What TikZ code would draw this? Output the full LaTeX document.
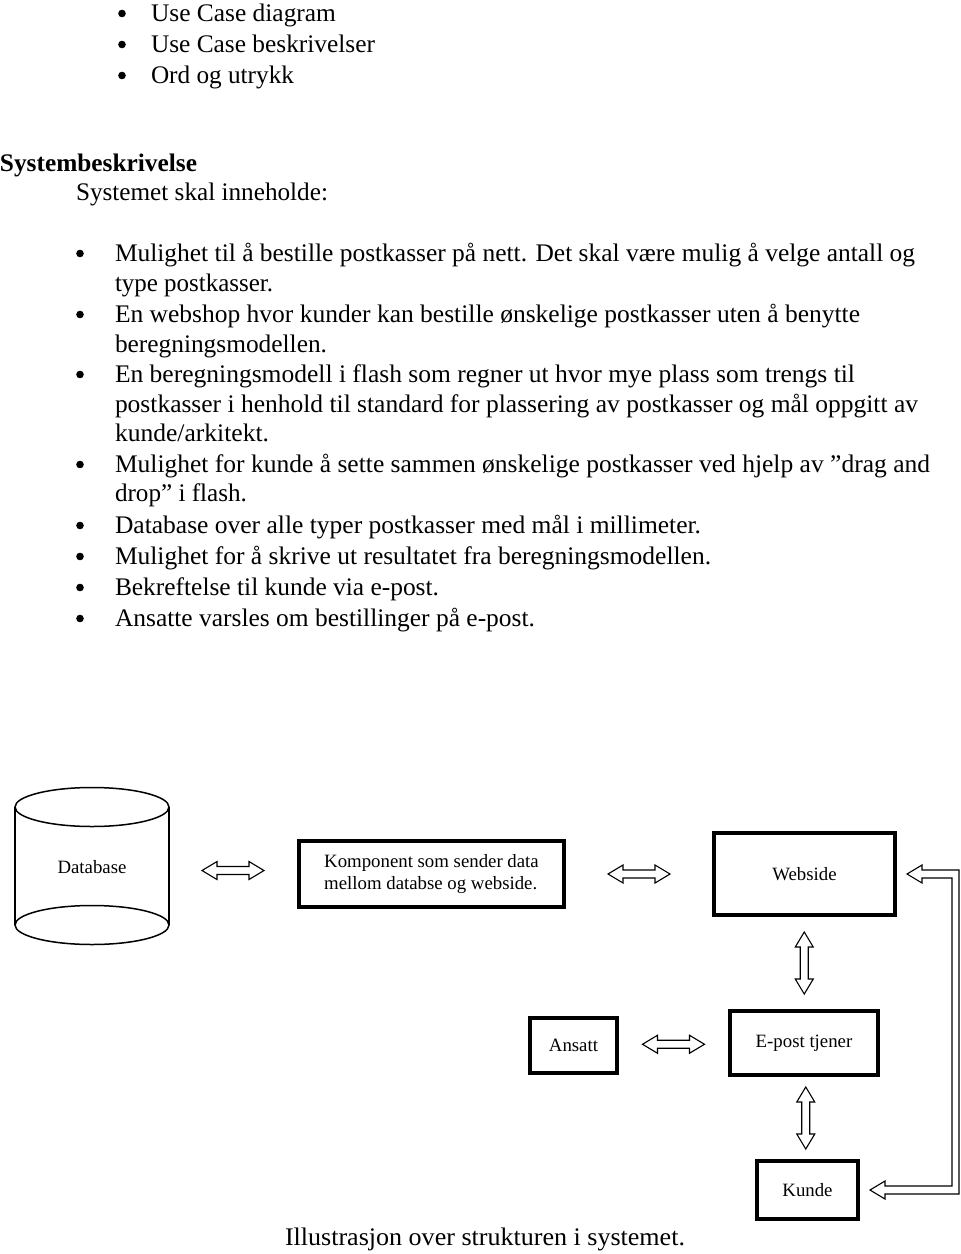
\documentclass[tikz,border=0pt]{standalone}
\usepackage{fontspec}
\setmainfont{Liberation Serif}
\usepackage{graphicx}
\usetikzlibrary{calc}
\tikzset{
  txt/.style={anchor=base west, inner sep=0pt, outer sep=0pt, font=\fontsize{12.65}{15}\selectfont},
  box/.style={draw=black, line width=2pt, inner sep=0pt, font=\fontsize{9.4}{11}\selectfont},
  arr/.style={draw=black, line width=0.55pt, fill=white, line join=miter},
  cyl/.style={draw=black, line width=0.75pt},
  dblarr/.pic={\path[arr] (-31,0) -- (-16,-9) -- (-16,-4) -- (16,-4) -- (16,-9) -- (31,0) -- (16,9) -- (16,4) -- (-16,4) -- (-16,9) -- cycle;}
}
\newcommand\txtline[4]{\node[txt] (#1) at (#2) {\resizebox{#3}{\height}{#4}};}
\begin{document}
\begin{tikzpicture}[x=0.5pt,y=-0.5pt]
\useasboundingbox (0,0) rectangle (960,1254);
% top list
\txtline{u1}{151,21.5}{92.5pt}{Use Case diagram}
\txtline{u2}{151,52.5}{112pt}{Use Case beskrivelser}
\txtline{u3}{151,83.5}{71.5pt}{Ord og utrykk}
\foreach \y in {21.5,52.5,83.5} \fill (122,\y-8) circle[radius=3.8];
% heading
\txtline{sb}{0,171.5}{98.5pt}{\bfseries Systembeskrivelse}
\txtline{si}{76,200.5}{126pt}{Systemet skal inneholde:}
% main list
\txtline{m1}{115,261.5}{400pt}{Mulighet til å bestille postkasser på nett. Det skal være mulig å velge antall og}
\txtline{m2}{115,291.5}{79pt}{type postkasser.}
\txtline{m3}{115,322.5}{372.5pt}{En webshop hvor kunder kan bestille ønskelige postkasser uten å benytte}
\txtline{m4}{115,352.5}{106pt}{beregningsmodellen.}
\txtline{m5}{115,382.5}{370pt}{En beregningsmodell i flash som regner ut hvor mye plass som trengs til}
\txtline{m6}{115,412.5}{401.5pt}{postkasser i henhold til standard for plassering av postkasser og mål oppgitt av}
\txtline{m7}{115,441.5}{77pt}{kunde/arkitekt.}
\txtline{m8}{115,472.5}{407.5pt}{Mulighet for kunde å sette sammen ønskelige postkasser ved hjelp av ”drag and}
\txtline{m9}{115,501.5}{66pt}{drop” i flash.}
\txtline{m10}{115,533.5}{293pt}{Database over alle typer postkasser med mål i millimeter.}
\txtline{m11}{115,564.5}{298pt}{Mulighet for å skrive ut resultatet fra beregningsmodellen.}
\txtline{m12}{115,595.5}{162pt}{Bekreftelse til kunde via e-post.}
\txtline{m13}{115,626.5}{210pt}{Ansatte varsles om bestillinger på e-post.}
\foreach \y in {261.5,322.5,382.5,472.5,533.5,564.5,595.5,626.5} \fill (80,\y-8) circle[radius=3.8];
% caption
\txtline{cap}{285,1245}{200pt}{Illustrasjon over strukturen i systemet.}
% database cylinder
\node[inner sep=0pt, outer sep=0pt, minimum width=77pt, minimum height=78pt, font=\fontsize{9.4}{11}\selectfont] (db) at (92,867) {Database};
\draw[cyl] (15,807) -- (15,925);
\draw[cyl] (169,807) -- (169,925);
\draw[cyl] (92,807) ellipse[x radius=77, y radius=19.5];
\draw[cyl] (92,925) ellipse[x radius=77, y radius=19.5];
% boxes
\node[box, minimum width=132.5pt, minimum height=33pt, align=left] (komp) at (431.5,874) {Komponent som sender data\\mellom databse og webside.};
\node[box, minimum width=90.5pt, minimum height=41pt] (web) at (804.5,874) {Webside};
\node[box, minimum width=74pt, minimum height=32pt] (ep) at (804,1043) {E-post tjener};
\node[box, minimum width=43.5pt, minimum height=27.5pt] (ans) at (573.5,1045.5) {Ansatt};
\node[box, minimum width=50.5pt, minimum height=29pt] (kun) at (807.5,1190) {Kunde};
% hollow double arrows
\pic at ($(db.east)!0.5!(komp.west)$) {dblarr};
\pic at ($(komp.east)!0.5!(web.west)$) {dblarr};
\pic[rotate=90] at ($(web.south)!0.5!(ep.north)$) {dblarr};
\pic at ($(ans.east)!0.5!(ep.west)$) {dblarr};
\pic[rotate=90] at ($(ep.south)!0.5!(kun.north)$) {dblarr};
% loop arrow Kunde <-> Webside
\coordinate (t1) at ($(web.east)+(10,0)$);
\coordinate (t2) at ($(kun.east)+(10,0)$);
\coordinate (a1) at ($(t1)+(0,-4)$);
\coordinate (a2) at ($(t1)+(0,4)$);
\coordinate (b1) at ($(t2)+(0,-4)$);
\coordinate (b2) at ($(t2)+(0,4)$);
\coordinate (xo) at (959,0);
\coordinate (xi) at (952,0);
\path[arr] (t1) -- ++(15,-9) -- ++(0,5) -- (xo |- a1) -- (xo |- b2) -- ($(b2)+(15,0)$) -- ++(0,5) -- (t2) -- ++(15,-9) -- ++(0,5) -- (xi |- b1) -- (xi |- a2) -- ($(a2)+(15,0)$) -- ++(0,5) -- cycle;
\end{tikzpicture}
\end{document}
